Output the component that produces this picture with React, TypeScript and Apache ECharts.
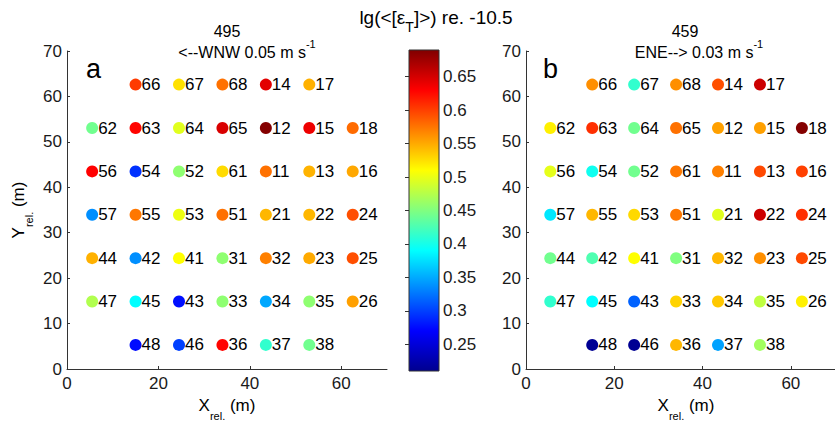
import React, { useEffect, useRef } from "react";
import * as echarts from "echarts";

const FONT = "'Liberation Sans', Arial, Helvetica, sans-serif";

// Station labels, in row order (top row first)
const stationNames = [
  "66", "67", "68", "14", "17",
  "62", "63", "64", "65", "12", "15", "18",
  "56", "54", "52", "61", "11", "13", "16",
  "57", "55", "53", "51", "21", "22", "24",
  "44", "42", "41", "31", "32", "23", "25",
  "47", "45", "43", "33", "34", "35", "26",
  "48", "46", "36", "37", "38",
];

// X_rel. (m) of each station
const stationX = [
  15, 24.5, 34, 43.5, 53,
  5.5, 15, 24.5, 34, 43.5, 53, 62.5,
  5.5, 15, 24.5, 34, 43.5, 53, 62.5,
  5.5, 15, 24.5, 34, 43.5, 53, 62.5,
  5.5, 15, 24.5, 34, 43.5, 53, 62.5,
  5.5, 15, 24.5, 34, 43.5, 53, 62.5,
  15, 24.5, 34, 43.5, 53,
];

// Y_rel. (m) of each station
const stationY = [
  62.6, 62.6, 62.6, 62.6, 62.6,
  53.05, 53.05, 53.05, 53.05, 53.05, 53.05, 53.05,
  43.5, 43.5, 43.5, 43.5, 43.5, 43.5, 43.5,
  33.95, 33.95, 33.95, 33.95, 33.95, 33.95, 33.95,
  24.4, 24.4, 24.4, 24.4, 24.4, 24.4, 24.4,
  14.85, 14.85, 14.85, 14.85, 14.85, 14.85, 14.85,
  5.3, 5.3, 5.3, 5.3, 5.3,
];

// lg(<[eps_T]>) re. -10.5, panel a (495)
const valuesA = [
  0.603, 0.524, 0.577, 0.643, 0.547,
  0.443, 0.628, 0.496, 0.648, 0.688, 0.638, 0.58,
  0.63, 0.293, 0.457, 0.527, 0.577, 0.546, 0.551,
  0.337, 0.574, 0.502, 0.577, 0.544, 0.544, 0.593,
  0.547, 0.337, 0.51, 0.457, 0.57, 0.55, 0.593,
  0.473, 0.39, 0.277, 0.457, 0.349, 0.457, 0.555,
  0.275, 0.30, 0.628, 0.413, 0.443,
];

// panel b (459)
const valuesB = [
  0.563, 0.413, 0.563, 0.593, 0.654,
  0.517, 0.608, 0.443, 0.577, 0.555, 0.555, 0.688,
  0.498, 0.397, 0.443, 0.574, 0.57, 0.596, 0.60,
  0.379, 0.544, 0.528, 0.574, 0.496, 0.654, 0.608,
  0.443, 0.427, 0.51, 0.45, 0.544, 0.563, 0.596,
  0.413, 0.39, 0.316, 0.531, 0.536, 0.48, 0.517,
  0.212, 0.212, 0.544, 0.346, 0.466,
];

const colorRange = [0.21, 0.69];
const colorbarTicks = [0.25, 0.3, 0.35, 0.4, 0.45, 0.5, 0.55, 0.6, 0.65];
const xTicks = [0, 20, 40, 60];
const jetColors = [
  "#00008f", "#0000ff", "#0080ff", "#00ffff", "#80ff80",
  "#ffff00", "#ff8000", "#ff0000", "#800000",
];

const AXIS_COLOR = "#333";
const TEXT_COLOR = "#1a1a1a";

function makeXAxis(gridIndex: number) {
  return {
    gridIndex,
    type: "value",
    min: 0,
    max: 70,
    axisLine: { show: true, onZero: false, lineStyle: { color: AXIS_COLOR, width: 1 } },
    axisTick: { show: true, inside: true, length: 3, customValues: xTicks, lineStyle: { color: AXIS_COLOR } },
    axisLabel: { customValues: xTicks, margin: 6, fontSize: 17, fontFamily: FONT, color: TEXT_COLOR },
    splitLine: { show: false },
  };
}

function makeYAxis(gridIndex: number) {
  return {
    gridIndex,
    type: "value",
    min: 0,
    max: 70,
    interval: 10,
    axisLine: { show: true, onZero: false, lineStyle: { color: AXIS_COLOR, width: 1 } },
    axisTick: { show: true, inside: true, length: 3, lineStyle: { color: AXIS_COLOR } },
    axisLabel: { margin: 5, fontSize: 17, fontFamily: FONT, color: TEXT_COLOR },
    splitLine: { show: false },
  };
}

function makeScatter(values: number[], axisIndex: number) {
  return {
    type: "scatter",
    xAxisIndex: axisIndex,
    yAxisIndex: axisIndex,
    symbol: "circle",
    symbolSize: 12,
    itemStyle: { opacity: 1 },
    data: values.map((v, i) => [stationX[i], stationY[i], v]),
    label: {
      show: true,
      position: "right",
      distance: 0,
      formatter: (p: any) => stationNames[p.dataIndex],
      fontSize: 17,
      fontFamily: FONT,
      color: "#000",
    },
    emphasis: { disabled: true },
  };
}

function richText(size: number) {
  return { fontSize: size, fontFamily: FONT, fill: "#000", color: "#000" };
}

export default function App() {
  const ref = useRef<HTMLDivElement>(null);

  useEffect(() => {
    if (!ref.current) return;
    const chart = echarts.init(ref.current, undefined, { renderer: "svg" });
    const stops = jetColors.map((c, i) => ({ offset: i / (jetColors.length - 1), color: c }));

    const option: any = {
      animation: false,
      backgroundColor: "#fff",
      grid: [
        { left: 67, top: 51, width: 320, height: 318 },
        { left: 526, top: 51, width: 319, height: 318 },
        { left: 409, top: 50, width: 30, height: 321 },
      ],
      xAxis: [
        makeXAxis(0),
        makeXAxis(1),
        { gridIndex: 2, type: "value", min: 0, max: 1, show: false },
      ],
      yAxis: [
        makeYAxis(0),
        makeYAxis(1),
        {
          gridIndex: 2,
          type: "value",
          position: "right",
          min: colorRange[0],
          max: colorRange[1],
          axisLine: { show: false },
          axisTick: { show: true, inside: true, length: 4, customValues: colorbarTicks, lineStyle: { color: AXIS_COLOR } },
          axisLabel: { customValues: colorbarTicks, margin: 4, fontSize: 17, fontFamily: FONT, color: TEXT_COLOR },
          splitLine: { show: false },
        },
      ],
      visualMap: {
        type: "continuous",
        show: false,
        min: colorRange[0],
        max: colorRange[1],
        dimension: 2,
        seriesIndex: [0, 1],
        inRange: { color: jetColors, opacity: 1 },
      },
      series: [
        makeScatter(valuesA, 0),
        makeScatter(valuesB, 1),
        {
          type: "custom",
          xAxisIndex: 2,
          yAxisIndex: 2,
          silent: true,
          z: 1,
          data: [[0, colorRange[0], colorRange[1]]],
          renderItem: (params: any, api: any) => {
            const p0 = api.coord([0, api.value(1)]);
            const p1 = api.coord([1, api.value(2)]);
            return {
              type: "rect",
              shape: { x: p0[0], y: p1[1], width: p1[0] - p0[0], height: p0[1] - p1[1] },
              style: {
                fill: new echarts.graphic.LinearGradient(0, 1, 0, 0, stops),
                stroke: AXIS_COLOR,
                lineWidth: 1,
              },
            };
          },
        },
      ],
      graphic: [
        {
          type: "text",
          x: 436,
          y: 17.5,
          style: {
            text: "{m|lg(<[ε}{s|T}{m|]>) re. -10.5}",
            align: "center",
            verticalAlign: "middle",
            rich: {
              m: richText(19),
              s: { ...richText(14), padding: [18, 0, 0, 0] },
            },
          },
        },
        {
          type: "text",
          x: 227,
          y: 31,
          style: { text: "495", align: "center", verticalAlign: "middle", ...richText(16) },
        },
        {
          type: "text",
          x: 247,
          y: 52,
          style: {
            text: "{m|<--WNW 0.05 m s}{p|-1}",
            align: "center",
            verticalAlign: "middle",
            rich: { m: richText(16), p: { ...richText(11), padding: [0, 0, 16, 0] } },
          },
        },
        {
          type: "text",
          x: 685,
          y: 31,
          style: { text: "459", align: "center", verticalAlign: "middle", ...richText(16) },
        },
        {
          type: "text",
          x: 699,
          y: 52,
          style: {
            text: "{m|ENE--> 0.03 m s}{p|-1}",
            align: "center",
            verticalAlign: "middle",
            rich: { m: richText(16), p: { ...richText(11), padding: [0, 0, 16, 0] } },
          },
        },
        {
          type: "text",
          x: 86,
          y: 69,
          style: { text: "a", align: "left", verticalAlign: "middle", ...richText(27) },
        },
        {
          type: "text",
          x: 543,
          y: 69,
          style: { text: "b", align: "left", verticalAlign: "middle", ...richText(27) },
        },
        {
          type: "text",
          x: 227,
          y: 405,
          style: {
            text: "{m|X}{s|rel.}{m| (m)}",
            align: "center",
            verticalAlign: "middle",
            rich: { m: richText(17), s: { ...richText(11), padding: [22, 0, 0, 0] } },
          },
        },
        {
          type: "text",
          x: 686,
          y: 405,
          style: {
            text: "{m|X}{s|rel.}{m| (m)}",
            align: "center",
            verticalAlign: "middle",
            rich: { m: richText(17), s: { ...richText(11), padding: [22, 0, 0, 0] } },
          },
        },
        {
          type: "text",
          x: 18,
          y: 210,
          rotation: Math.PI / 2,
          style: {
            text: "{m|Y}{s|rel.}{m| (m)}",
            align: "center",
            verticalAlign: "middle",
            rich: { m: richText(17), s: { ...richText(11), padding: [22, 0, 0, 0] } },
          },
        },
      ],
    };

    chart.setOption(option);
    return () => chart.dispose();
  }, []);

  return (
    <div
      ref={ref}
      style={{ position: "fixed", left: 0, top: 0, width: 835, height: 424, background: "#fff" }}
    />
  );
}
